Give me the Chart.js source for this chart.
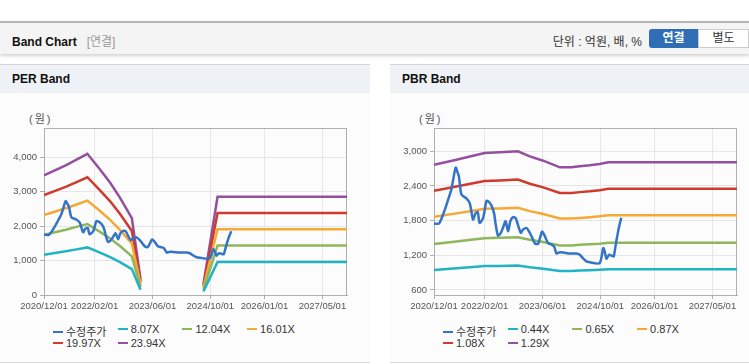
<!DOCTYPE html>
<html lang="ko">
  <head>
    <meta charset="UTF-8" />
    <title>Band Chart</title>
    <script src="https://cdn.jsdelivr.net/npm/chart.js"></script>
    <style>
      body { margin: 0; width: 749px; height: 364px; background: #fff; position: relative; overflow: hidden;
             font-family: "Liberation Sans", "Noto Sans CJK KR", sans-serif; color: #333; }
      .top { position: absolute; left: 0; top: 21px; width: 749px; height: 31px; background: #f4f4f4;
             border-top: 2px solid #b4b4b4; box-shadow: 0 2px 3px rgba(0,0,0,0.18); }
      .top .ttl { position: absolute; left: 12px; top: 9px; font-size: 12px; font-weight: bold; color: #111; }
      .top .sub { font-weight: normal; color: #999; margin-left: 10px; }
      .top .unit { position: absolute; right: 107px; top: 9px; font-size: 12px; color: #333; }
      .btn { position: absolute; top: 6px; height: 19px; line-height: 19px; width: 49px; text-align: center; font-size: 12px; }
      .btn.on { left: 649px; background: #2f6db5; color: #fff; font-weight: bold; border-radius: 3px 0 0 3px; }
      .btn.off { left: 698px; background: #fff; color: #333; border: 1px solid #ccc; height: 17px; line-height: 17px; }
      .panel { position: absolute; top: 64px; height: 297px; background: #fcfcfc;
               border-top: 1px solid #d4d4d4; border-bottom: 1px solid #dedede; }
      .panel .hd { height: 28px; background: #eef2f7; font-size: 12px; font-weight: bold; color: #111;
                   line-height: 29px; padding-left: 12px; }
      .panel canvas { position: absolute; left: 0; top: 35px; }
      .won { position: absolute; left: 29px; top: 45px; font-size: 11px; color: #555; letter-spacing: 2px; }
      .lg { position: absolute; font-size: 11px; color: #333; white-space: nowrap; }
      .lg i { display: inline-block; width: 10px; height: 2px; margin-right: 3px; vertical-align: middle; position: relative; top: -1px; }
    </style>
  </head>
  <body>
    <div class="top">
      <div class="ttl">Band Chart<span class="sub">[연결]</span></div>
      <div class="unit">단위 : 억원, 배, %</div>
      <div class="btn on">연결</div>
      <div class="btn off">별도</div>
    </div>

    <div class="panel" id="perPanel" style="left:0; width:370px;">
      <div class="hd">PER Band</div>
      <div class="won">(원)</div>
      <canvas id="perChart" width="370" height="215"></canvas>
    </div>
    <div class="panel" id="pbrPanel" style="left:390px; width:359px;">
      <div class="hd">PBR Band</div>
      <div class="won">(원)</div>
      <canvas id="pbrChart" width="359" height="215"></canvas>
    </div>

    <script>
      // x축 눈금
      const xTickLabels = ["2020/12/01", "2022/02/01", "2023/06/01", "2024/10/01", "2026/01/01", "2027/05/01"];
      const xStart = "2020/12/01";
      const xEnd = "2027/11/25";
      const perTicks = [0, 1000, 2000, 3000, 4000];
      const pbrTicks = [600, 1200, 1800, 2400, 3000];

      // 수정주가
      const priceDates = [
        "2020/12/01", "2021/01/13", "2021/03/01", "2021/04/07", "2021/04/25", "2021/05/10", "2021/06/01",
        "2021/06/16", "2021/06/28", "2021/07/19", "2021/08/28", "2021/09/28", "2021/10/25", "2021/11/16",
        "2021/12/04", "2021/12/19", "2022/01/19", "2022/02/16", "2022/03/04", "2022/03/28", "2022/04/19",
        "2022/05/01", "2022/05/22", "2022/06/16", "2022/07/07", "2022/07/25", "2022/08/16", "2022/09/04",
        "2022/09/28", "2022/10/19", "2022/11/07", "2022/12/01", "2022/12/19", "2023/01/19", "2023/02/16",
        "2023/03/13", "2023/04/01", "2023/04/25", "2023/05/28", "2023/06/19", "2023/07/16", "2023/08/16",
        "2023/09/07", "2023/09/28", "2023/10/19", "2023/11/22", "2024/01/16", "2024/03/13", "2024/04/10",
        "2024/05/07", "2024/06/07", "2024/07/04", "2024/09/25", "2024/10/25", "2024/11/07", "2024/11/22",
        "2024/12/13", "2025/01/04", "2025/01/22", "2025/01/28", "2025/02/16", "2025/03/07", "2025/03/25",
      ];
      const priceValues = [
        1750, 1750, 1990, 2220, 2340, 2510, 2720,
        2640, 2560, 2250, 2190, 2100, 1820, 1930,
        1950, 1760, 1850, 2140, 2130, 2060, 1930,
        1760, 1540, 1590, 1700, 1790, 1615, 1790,
        1860, 1845, 1730, 1590, 1645, 1670, 1590,
        1470, 1400, 1400, 1610, 1540, 1415, 1385,
        1355, 1230, 1250, 1250, 1230, 1230, 1210,
        1150, 1095, 1080, 1065, 1325, 1270, 1140,
        1210, 1195, 1180, 1240, 1470, 1700, 1850,
      ];

      // PER 밴드 (null = 끊김)
      const perDates = [
        "2020/12/01", "2021/06/01", "2021/09/01", "2021/12/01", "2022/03/16", "2022/06/10", "2022/09/01",
        "2022/12/10", "2023/02/22", "2024/01/01", "2024/08/04", "2024/12/01", "2027/11/25",
      ];
      const perNames = ["8.07X", "12.04X", "16.01X", "19.97X", "23.94X"];
      const per807 = [1170, 1267, 1323, 1380, 1227, 1098, 952, 751, 153, null, 105, 960, 960];
      const per1204 = [1746, 1890, 1975, 2059, 1830, 1637, 1421, 1120, 229, null, 157, 1433, 1433];
      const per1601 = [2321, 2514, 2626, 2738, 2434, 2177, 1889, 1489, 304, null, 208, 1905, 1905];
      const per1997 = [2896, 3135, 3275, 3415, 3035, 2716, 2356, 1857, 379, null, 260, 2376, 2376];
      const per2394 = [3471, 3759, 3926, 4094, 3639, 3256, 2825, 2226, 455, null, 311, 2849, 2849];

      // PBR 밴드
      const pbrDates = [
        "2020/12/01", "2021/06/07", "2021/10/25", "2022/02/01", "2022/06/07", "2022/11/07", "2023/02/16",
        "2023/06/07", "2023/10/25", "2024/02/01", "2024/04/10", "2024/07/04", "2024/09/25", "2024/12/07", "2027/11/25",
      ];
      const pbrNames = ["0.44X", "0.65X", "0.87X", "1.08X", "1.29X"];
      const pbr044 = [944, 974, 998, 1013, 1017, 1023, 994, 968, 929, 929, 935, 941, 949, 958, 958];
      const pbr065 = [1395, 1439, 1474, 1497, 1503, 1512, 1468, 1430, 1372, 1372, 1381, 1390, 1401, 1416, 1416];
      const pbr087 = [1867, 1926, 1973, 2004, 2012, 2023, 1965, 1914, 1836, 1836, 1848, 1860, 1875, 1895, 1895];
      const pbr108 = [2318, 2391, 2449, 2487, 2497, 2512, 2439, 2376, 2280, 2280, 2294, 2309, 2328, 2353, 2353];
      const pbr129 = [2769, 2856, 2925, 2971, 2983, 3000, 2913, 2838, 2723, 2723, 2740, 2758, 2781, 2810, 2810];

      const colors = ["#3474c6", "#21b3c3", "#8db75a", "#f5a834", "#cf3a2c", "#944f9e"];

      // 날짜 -> 2020/12/01 기준 개월 수
      function monthIdx(s) {
        const [y, m, d] = s.split("/").map(Number);
        return (y - 2020) * 12 + (m - 12) + (d - 1) / 30;
      }
      function pts(dates, vals) {
        return dates.map((d, i) => ({ x: monthIdx(d), y: vals[i] }));
      }

      const boxPlugin = {
        id: "box",
        beforeDatasetsDraw(chart) {
          const a = chart.chartArea, ctx = chart.ctx;
          ctx.save();
          ctx.strokeStyle = "#b0b0b0";
          ctx.lineWidth = 1;
          ctx.strokeRect(a.left + 0.5, a.top + 0.5, a.right - a.left - 1, a.bottom - a.top);
          ctx.restore();
        },
      };

      function makeChart(id, bands, bandDates, yMin, yMax, yTicks, rightPad) {
        const sets = [{ label: "수정주가", data: pts(priceDates, priceValues), borderColor: colors[0], tension: 0.25 }];
        bands.forEach((b, i) => {
          sets.push({ label: b.name, data: pts(bandDates, b.vals), borderColor: colors[i + 1], tension: 0 });
        });
        sets.forEach((s) => { s.borderWidth = 2.5; s.pointRadius = 0; s.fill = false; s.spanGaps = false; });

        const tickFont = { family: "Liberation Sans", size: 9.5 };
        return new Chart(document.getElementById(id), {
          type: "line",
          data: { datasets: sets },
          plugins: [boxPlugin],
          options: {
            responsive: false,
            animation: false,
            layout: { padding: { top: 28, right: rightPad, left: 0, bottom: 0 } },
            plugins: { legend: { display: false }, tooltip: { enabled: false } },
            scales: {
              x: {
                type: "linear",
                min: monthIdx(xStart),
                max: monthIdx(xEnd),
                afterBuildTicks: (s) => { s.ticks = xTickLabels.map((t) => ({ value: monthIdx(t) })); },
                afterFit: (s) => { s.height = 20; },
                ticks: { callback: (v, i) => xTickLabels[i], font: tickFont, color: "#555", padding: 2, maxRotation: 0, autoSkip: false },
                grid: { color: "#e6e6e6", tickColor: "#b0b0b0", tickLength: 4 },
                border: { color: "#b0b0b0" },
              },
              y: {
                min: yMin,
                max: yMax,
                afterBuildTicks: (s) => { s.ticks = yTicks.map((v) => ({ value: v })); },
                afterFit: (s) => { s.width = 44; },
                ticks: { callback: (v) => v.toLocaleString("en-US"), font: tickFont, color: "#555", padding: 3 },
                grid: { color: "#e6e6e6", tickColor: "#b0b0b0", tickLength: 4 },
                border: { color: "#b0b0b0" },
              },
            },
          },
        });
      }

      makeChart("perChart",
        [per807, per1204, per1601, per1997, per2394].map((v, i) => ({ name: perNames[i], vals: v })),
        perDates, 0, 4843, perTicks, 23);
      makeChart("pbrChart",
        [pbr044, pbr065, pbr087, pbr108, pbr129].map((v, i) => ({ name: pbrNames[i], vals: v })),
        pbrDates, 513, 3404, pbrTicks, 12);

      // 범례 (4열 격자)
      function legend(panelId, names) {
        const panel = document.getElementById(panelId);
        ["수정주가"].concat(names).forEach((n, i) => {
          const el = document.createElement("div");
          el.className = "lg";
          el.style.left = 53 + (i % 4) * 64.7 + "px";
          el.style.top = 258 + Math.floor(i / 4) * 13.5 + "px";
          el.innerHTML = '<i style="background:' + colors[i] + '"></i>' + n;
          panel.appendChild(el);
        });
      }
      legend("perPanel", perNames);
      legend("pbrPanel", pbrNames);
    </script>
  </body>
</html>
